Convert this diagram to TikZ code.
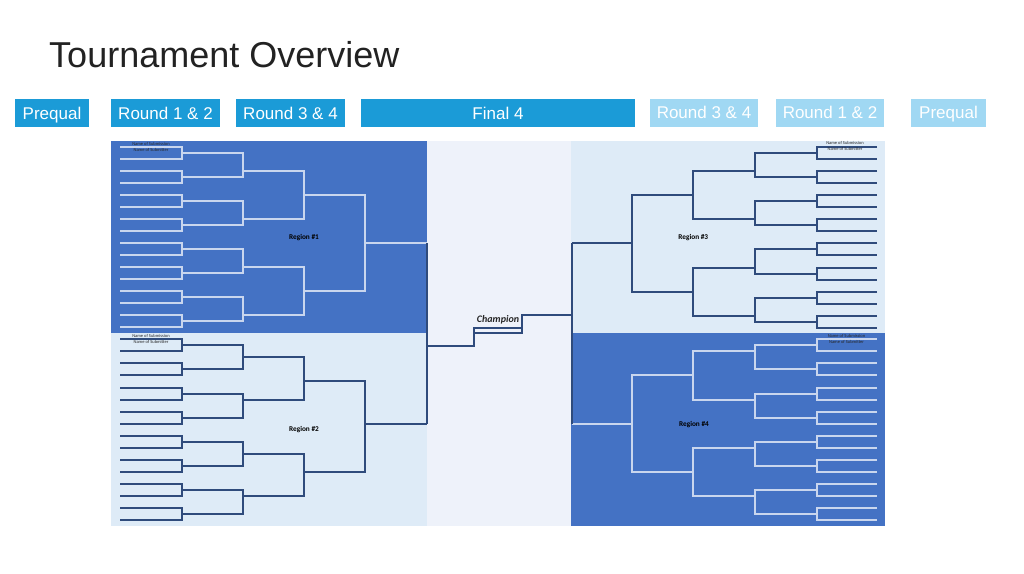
\documentclass[tikz,border=0pt]{standalone}
\usepackage{fontspec}
\setmainfont{Liberation Sans}
\newfontfamily\calib{Carlito}
\definecolor{hdr}{RGB}{27,155,215}
\definecolor{hdrlight}{RGB}{160,216,243}
\definecolor{regdark}{HTML}{4472C4}
\definecolor{reglight}{HTML}{DEEBF7}
\definecolor{midfill}{HTML}{EEF2FA}
\definecolor{navy}{HTML}{2F4B7C}
\definecolor{pale}{HTML}{C9D6EE}
\definecolor{titlegray}{HTML}{222222}
\def\sp{12.05}
\newcommand\drawbrk[5]{%
  \foreach \k in {0,...,7}{
    \pgfmathsetmacro\ya{round(#1+2*\k*\sp)}
    \pgfmathsetmacro\yb{round(#1+(2*\k+1)*\sp)}
    \draw[bline,#2] (\xa,\ya) -- (\xb,\ya) -- (\xb,\yb) -- (\xa,\yb);
  }
  \foreach \k in {0,...,3}{
    \pgfmathsetmacro\ya{round(#1+(4*\k+0.5)*\sp)}
    \pgfmathsetmacro\yb{round(#1+(4*\k+2.5)*\sp)}
    \draw[bline,#2] (\xb,\ya) -- (\xc,\ya) -- (\xc,\yb) -- (\xb,\yb);
  }
  \foreach \a/\b in {#3}{
    \pgfmathsetmacro\ya{round(#1+\a*\sp)}
    \pgfmathsetmacro\yb{round(#1+\b*\sp)}
    \draw[bline,#2] (\xc,\ya) -- (\xd,\ya) -- (\xd,\yb) -- (\xc,\yb);
  }
  \foreach \a/\b in {#4}{
    \pgfmathsetmacro\ya{round(#1+\a*\sp)}
    \pgfmathsetmacro\yb{round(#1+\b*\sp)}
    \draw[bline,#2] (\xd,\ya) -- (\xe,\ya) -- (\xe,\yb) -- (\xd,\yb);
  }
  \pgfmathsetmacro\ya{round(#1+#5*\sp)}
  \draw[bline,#2] (\xe,\ya) -- (\xf,\ya);
}
\begin{document}
\begin{tikzpicture}[x=1pt,y=-1pt,
  hdrbox/.style={fill=hdr,text=white,font=\fontsize{17}{17}\selectfont,inner sep=0pt,minimum height=28pt,text height=12.2pt,text depth=0pt},
  hdrboxl/.style={hdrbox,fill=hdrlight},
  bline/.style={line width=2pt,line join=miter},
  reglabel/.style={font=\calib\bfseries\fontsize{7.3}{8}\selectfont,text=black,inner sep=0pt},
  namelabel/.style={font=\calib\fontsize{4.5}{5}\selectfont,text=black!85,inner sep=0pt},
  champlabel/.style={font=\calib\bfseries\itshape\fontsize{10}{11}\selectfont,text=black!85,inner sep=0pt}]
\useasboundingbox (0,0) rectangle (1024,573);
\fill[white] (0,0) rectangle (1024,573);

% title
\node[anchor=base west,inner sep=0pt,text=titlegray,font=\fontsize{36}{36}\selectfont] (title) at (49,67) {Tournament Overview};

% header boxes
\node[hdrbox,minimum width=74pt] (h1) at (52,113) {Prequal};
\node[hdrbox,minimum width=109pt] (h2) at (165.5,113) {Round 1 \& 2};
\node[hdrbox,minimum width=109pt] (h3) at (290.5,113) {Round 3 \& 4};
\node[hdrbox,minimum width=274pt] (h4) at (498,113) {Final 4};
\node[hdrboxl,minimum width=108pt] (h5) at (704,112.5) {Round 3 \& 4};
\node[hdrboxl,minimum width=108pt] (h6) at (830,112.5) {Round 1 \& 2};
\node[hdrboxl,minimum width=75pt] (h7) at (948.5,112.5) {Prequal};

% region backgrounds
\fill[regdark] (111,141) rectangle (427,333);
\fill[reglight] (111,333) rectangle (427,526);
\fill[midfill] (427,141) rectangle (571,526);
\fill[reglight] (571,141) rectangle (885,333);
\fill[regdark] (571,333) rectangle (885,526);

% left brackets
\def\xa{120}\def\xb{182}\def\xc{243}\def\xd{304}\def\xe{365}\def\xf{427}
\drawbrk{146.5}{pale}{2/6,10/14}{4/12}{8}
\drawbrk{339.3}{navy}{1.5/5,9.5/13}{3.5/11}{7}
% right brackets
\def\xa{877}\def\xb{817}\def\xc{755}\def\xd{693}\def\xe{632}\def\xf{572}
\drawbrk{147}{navy}{2/6,10/14}{4/12}{8}
\drawbrk{339.3}{pale}{1/5,9/13}{3/11}{7}

% final four connectors
\coordinate (l1) at (427,243);
\coordinate (l2) at (427,424);
\coordinate (lc) at (427,346);
\coordinate (r1) at (572,243);
\coordinate (r2) at (572,424);
\coordinate (rc) at (572,315);
\coordinate (cbl) at (474,346);
\coordinate (ctl) at (474,328);
\coordinate (ctr) at (522,328);
\coordinate (cbl2) at (474,333);
\coordinate (cbr) at (522,333);
\coordinate (cup) at (522,315);
\draw[bline,navy] (l1) -- (l2);
\draw[bline,navy] (r1) -- (r2);
\draw[bline,navy] (lc) -- (cbl) -- (ctl) -- (ctr);
\draw[bline,navy] (cbl2) -- (cbr) -- (cup) -- (rc);
\node[champlabel] (champ) at (498,319.3) {Champion};

% region labels
\node[reglabel] (reg1) at (304,237.3) {Region \#1};
\node[reglabel] (reg2) at (304,430) {Region \#2};
\node[reglabel] (reg3) at (693.3,237.3) {Region \#3};
\node[reglabel] (reg4) at (694,424.3) {Region \#4};

% name labels
\node[namelabel] (n1a) at (151,143.7) {Name of Submission};
\node[namelabel] (n1b) at (151,150) {Name of Submitter};
\node[namelabel] (n2a) at (151,336) {Name of Submission};
\node[namelabel] (n2b) at (151,342.3) {Name of Submitter};
\node[namelabel] (n3a) at (845,142.7) {Name of Submission};
\node[namelabel] (n3b) at (845,149) {Name of Submitter};
\node[namelabel] (n4a) at (846.5,336) {Name of Submission};
\node[namelabel] (n4b) at (846.5,342.3) {Name of Submitter};
\end{tikzpicture}
\end{document}
